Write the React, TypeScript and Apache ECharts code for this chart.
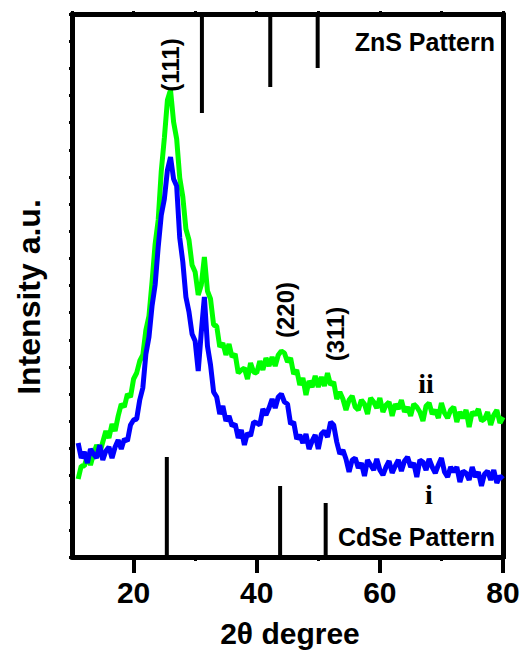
import React, { useEffect, useRef } from "react";
import * as echarts from "echarts";

// 2θ sampling grid (degrees)
const twoTheta: number[] = Array.from({ length: 139 }, (_, i) => 11 + i * 0.5);

// curve i (blue), intensity a.u.
const curveI: number[] = [
  114, 99, 105, 94, 108, 103, 99, 112, 97, 106,
  110, 99, 110, 117, 108, 118, 116, 132, 137, 138,
  157, 169, 203, 220, 251, 272, 310, 342, 358, 387,
  400, 378, 371, 319, 295, 260, 245, 223, 216, 186,
  225, 260, 211, 192, 165, 160, 143, 151, 136, 141,
  131, 133, 119, 127, 112, 124, 121, 135, 134, 132,
  148, 142, 149, 158, 149, 160, 163, 155, 153, 133,
  135, 118, 122, 114, 123, 108, 116, 122, 108, 123,
  126, 120, 135, 132,
  115, 103, 107, 98, 85, 97, 99, 89, 94, 81,
  97, 92, 87, 98, 87, 82, 90, 96, 84, 91,
  97, 86, 96, 100, 90, 94, 80, 97, 95, 87,
  98, 90, 84, 92, 99, 85, 80, 90, 85, 90,
  75, 86, 84, 77, 90, 80, 85, 71, 83, 86,
  77, 87, 74, 81, 78,
];

// curve ii (green), intensity a.u.
const curveII: number[] = [
  78, 91, 91, 101, 92, 103, 112, 104, 115, 126,
  119, 133, 126, 141, 153, 150, 163, 160, 178, 184,
  196, 202, 227, 241, 275, 313, 337, 386, 419, 457,
  467, 435, 418, 379, 360, 328, 317, 292, 285, 262,
  272, 300, 266, 258, 232, 231, 210, 214, 202, 213,
  200, 203, 184, 187, 189, 178, 194, 185, 184, 196,
  187, 199, 191, 200, 191, 202, 206, 204, 195, 199,
  183, 187, 172, 179, 162, 176, 170, 181, 170, 180,
  171, 184, 172, 175,
  158, 165, 158, 147, 157, 161, 150, 147, 157, 153,
  143, 159, 155, 149, 159, 145, 152, 155, 141, 153,
  148, 157, 145, 150, 141, 153, 150, 145, 136, 151,
  154, 143, 147, 139, 154, 144, 139, 147, 150, 135,
  145, 139, 147, 130, 145, 142, 148, 136, 138, 145,
  132, 142, 147, 134, 140,
];

const xTickLabels: number[] = [20, 40, 60, 80];
const xMinorTicks: number[] = [30, 50, 70];

// reference patterns (stick positions and stick ends)
const znsPositions: number[] = [31.1, 42.2, 49.9];
const znsEnds: number[] = [444, 470, 489];
const cdsePositions: number[] = [25.4, 43.8, 51.2];
const cdseTops: number[] = [100, 71, 54];

const yMin = 0;
const yMax = 543;

const SANS = "'Liberation Sans', Arial, Helvetica, sans-serif";
const SERIF = "'Liberation Serif', 'Times New Roman', serif";

export default function App() {
  const ref = useRef<HTMLDivElement>(null);

  useEffect(() => {
    const chart = echarts.init(ref.current!, null, { renderer: "svg" });

    const stick = (x: number, y0: number, y1: number) => ({
      type: "line",
      data: [
        [x, y0],
        [x, y1],
      ],
      symbol: "none",
      silent: true,
      z: 3,
      lineStyle: { color: "#000", width: 4, cap: "butt" },
    });

    const sticks = [
      ...znsPositions.map((x, i) => stick(x, yMax, znsEnds[i])),
      ...cdsePositions.map((x, i) => stick(x, yMin, cdseTops[i])),
    ];

    const frameLine = { show: true, lineStyle: { color: "#000", width: 5 } };

    chart.setOption({
      animation: false,
      backgroundColor: "#fff",
      grid: { left: 72, right: 23, top: 14, bottom: 97, containLabel: false },
      xAxis: [
        {
          type: "value",
          position: "bottom",
          min: 10,
          max: 80,
          axisLine: frameLine,
          axisTick: {
            show: true,
            customValues: xTickLabels,
            length: 16,
            lineStyle: { color: "#000", width: 4 },
          },
          axisLabel: {
            show: true,
            customValues: xTickLabels,
            fontSize: 30,
            fontWeight: "bold",
            fontFamily: SANS,
            color: "#000",
            margin: 20,
          },
          splitLine: { show: false },
        },
        {
          type: "value",
          position: "bottom",
          min: 10,
          max: 80,
          axisLine: { show: false },
          axisTick: {
            show: true,
            customValues: xMinorTicks,
            length: 4,
            lineStyle: { color: "#000", width: 3 },
          },
          axisLabel: { show: false },
          splitLine: { show: false },
        },
        {
          type: "value",
          position: "top",
          min: 10,
          max: 80,
          interval: 10,
          axisLine: frameLine,
          axisTick: { show: true, length: 3, lineStyle: { color: "#000", width: 3 } },
          axisLabel: { show: false },
          splitLine: { show: false },
        },
      ],
      yAxis: [
        {
          type: "value",
          position: "left",
          min: yMin,
          max: yMax,
          interval: yMax / 20,
          axisLine: frameLine,
          axisTick: { show: true, length: 3, lineStyle: { color: "#000", width: 3 } },
          axisLabel: { show: false },
          splitLine: { show: false },
        },
        {
          type: "value",
          position: "right",
          min: yMin,
          max: yMax,
          interval: yMax / 20,
          axisLine: frameLine,
          axisTick: { show: true, length: 3, lineStyle: { color: "#000", width: 3 } },
          axisLabel: { show: false },
          splitLine: { show: false },
        },
      ],
      series: [
        {
          name: "ii",
          type: "line",
          data: twoTheta.map((x, i) => [x, curveII[i]]),
          symbol: "none",
          z: 1,
          lineStyle: { color: "#00FF00", width: 5 },
        },
        {
          name: "i",
          type: "line",
          data: twoTheta.map((x, i) => [x, curveI[i]]),
          symbol: "none",
          z: 2,
          lineStyle: { color: "#0000FF", width: 5 },
        },
        ...sticks,
      ],
      graphic: [
        {
          type: "text",
          x: 495,
          y: 42,
          z: 100,
          style: { text: "ZnS Pattern", align: "right", verticalAlign: "middle", fontSize: 25, fontWeight: "bold", fontFamily: SANS, fill: "#000" },
        },
        {
          type: "text",
          x: 495,
          y: 537,
          z: 100,
          style: { text: "CdSe Pattern", align: "right", verticalAlign: "middle", fontSize: 25, fontWeight: "bold", fontFamily: SANS, fill: "#000" },
        },
        {
          type: "text",
          x: 170,
          y: 65,
          rotation: Math.PI / 2,
          z: 100,
          style: { text: "(111)", align: "center", verticalAlign: "middle", fontSize: 24, fontWeight: "bold", fontFamily: SANS, fill: "#000" },
        },
        {
          type: "text",
          x: 285,
          y: 310,
          rotation: Math.PI / 2,
          z: 100,
          style: { text: "(220)", align: "center", verticalAlign: "middle", fontSize: 24, fontWeight: "bold", fontFamily: SANS, fill: "#000" },
        },
        {
          type: "text",
          x: 335,
          y: 334,
          rotation: Math.PI / 2,
          z: 100,
          style: { text: "(311)", align: "center", verticalAlign: "middle", fontSize: 24, fontWeight: "bold", fontFamily: SANS, fill: "#000" },
        },
        {
          type: "text",
          x: 426,
          y: 383,
          z: 100,
          style: { text: "ii", align: "center", verticalAlign: "middle", fontSize: 28, fontWeight: "bold", fontFamily: SERIF, fill: "#000" },
        },
        {
          type: "text",
          x: 429,
          y: 494,
          z: 100,
          style: { text: "i", align: "center", verticalAlign: "middle", fontSize: 28, fontWeight: "bold", fontFamily: SERIF, fill: "#000" },
        },
        {
          type: "text",
          x: 29,
          y: 297,
          rotation: Math.PI / 2,
          z: 100,
          style: { text: "Intensity a.u.", align: "center", verticalAlign: "middle", fontSize: 32, fontWeight: "bold", fontFamily: SANS, fill: "#000" },
        },
        {
          type: "text",
          x: 290,
          y: 633,
          z: 100,
          style: { text: "2θ degree", align: "center", verticalAlign: "middle", fontSize: 30, fontWeight: "bold", fontFamily: SANS, fill: "#000" },
        },
      ],
    });

    return () => {
      chart.dispose();
    };
  }, []);

  return (
    <div
      ref={ref}
      style={{ position: "fixed", left: 0, top: 0, width: 526, height: 654, background: "#fff" }}
    />
  );
}
